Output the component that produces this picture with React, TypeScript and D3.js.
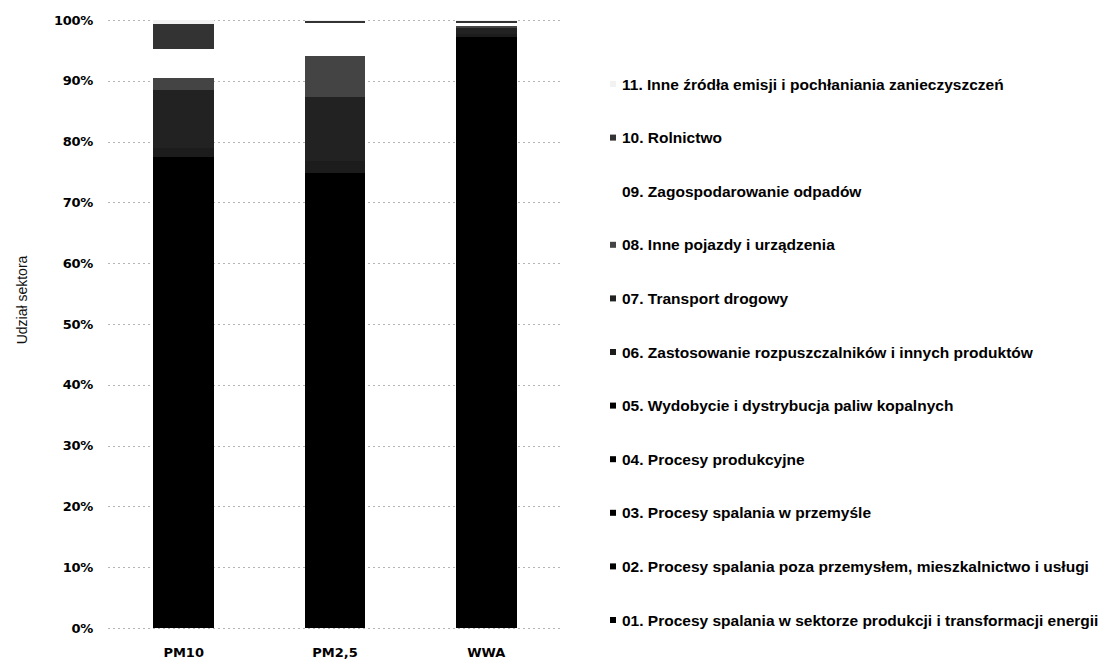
import { useEffect, useRef } from 'react';
import * as d3 from 'd3';

// kategorie na osi X
const CATEGORIES = ['PM10', 'PM2,5', 'WWA'];

// sektory w kolejności od dołu słupka
const SECTORS = [
  '01. Procesy spalania w sektorze produkcji i transformacji energii',
  '02. Procesy spalania poza przemysłem, mieszkalnictwo i usługi',
  '03. Procesy spalania w przemyśle',
  '04. Procesy produkcyjne',
  '05. Wydobycie i dystrybucja paliw kopalnych',
  '06. Zastosowanie rozpuszczalników i innych produktów',
  '07. Transport drogowy',
  '08. Inne pojazdy i urządzenia',
  '09. Zagospodarowanie odpadów',
  '10. Rolnictwo',
  '11. Inne źródła emisji i pochłaniania zanieczyszczeń',
];

const SECTOR_COLORS = [
  '#000000', '#000000', '#000000', '#000000', '#000000',
  '#1c1c1c', '#222222', '#444444', '#ffffff', '#333333', '#f2f2f2',
];

// udział sektora [%] dla PM10, PM2,5, WWA
const S01 = [4.5, 4.0, 2.0];
const S02 = [56.0, 57.0, 88.0];
const S03 = [8.0, 7.0, 4.0];
const S04 = [7.0, 5.0, 2.5];
const S05 = [2.0, 1.8, 0.7];
const S06 = [1.5, 2.0, 0.5];
const S07 = [9.5, 10.5, 1.0];
const S08 = [2.0, 6.7, 0.3];
const S09 = [4.8, 5.5, 0.5];
const S10 = [4.0, 0.3, 0.3];
const S11 = [0.7, 0.2, 0.2];

const SERIES = [S01, S02, S03, S04, S05, S06, S07, S08, S09, S10, S11];

const Y_TICKS = [0, 10, 20, 30, 40, 50, 60, 70, 80, 90, 100];

const WIDTH = 1115;
const HEIGHT = 662;

export default function App() {
  const svgRef = useRef<SVGSVGElement>(null);

  useEffect(() => {
    if (!svgRef.current) return;
    const svg = d3.select(svgRef.current);
    svg.selectAll('*').remove();

    const plot = { left: 108, right: 562, top: 20, bottom: 628 };

    const rows = CATEGORIES.map((cat, ci) => {
      const row: any = { cat };
      SERIES.forEach((s, si) => (row[`s${si}`] = s[ci]));
      return row;
    });
    const keys = SERIES.map((_, si) => `s${si}`);
    const stacked = d3.stack<any>().keys(keys)(rows);

    const x = d3
      .scaleBand<string>()
      .domain(CATEGORIES)
      .range([plot.left, plot.right])
      .paddingInner(0.6)
      .paddingOuter(0.3);

    const y = d3.scaleLinear().domain([0, 100]).range([plot.bottom, plot.top]);

    // siatka
    svg
      .append('g')
      .selectAll('line')
      .data(Y_TICKS)
      .enter()
      .append('line')
      .attr('x1', plot.left)
      .attr('x2', plot.right)
      .attr('y1', (d) => Math.round(y(d)) + 0.5)
      .attr('y2', (d) => Math.round(y(d)) + 0.5)
      .attr('stroke', '#b4b4b4')
      .attr('stroke-width', 1)
      .attr('stroke-dasharray', '2,3');

    // słupki
    svg
      .append('g')
      .attr('shape-rendering', 'crispEdges')
      .selectAll('g')
      .data(stacked)
      .enter()
      .append('g')
      .attr('fill', (_, i) => SECTOR_COLORS[i])
      .selectAll('rect')
      .data((layer) => layer)
      .enter()
      .append('rect')
      .attr('x', (d: any) => x(d.data.cat) as number)
      .attr('width', x.bandwidth())
      .attr('y', (d) => y(d[1]))
      .attr('height', (d) => Math.max(0, y(d[0]) - y(d[1])));

    // oś Y
    svg
      .append('g')
      .selectAll('text')
      .data(Y_TICKS)
      .enter()
      .append('text')
      .attr('x', 93)
      .attr('y', (d) => y(d))
      .attr('dy', '0.36em')
      .attr('text-anchor', 'end')
      .style('font-family', 'DejaVu Sans')
      .style('font-weight', 'bold')
      .style('font-size', '13px')
      .style('letter-spacing', '-0.3px')
      .text((d) => `${d}%`);

    svg
      .append('text')
      .attr('transform', `translate(27,300) rotate(-90)`)
      .attr('text-anchor', 'middle')
      .style('font-family', 'Liberation Sans')
      .style('font-size', '14px')
      .style('fill', '#111')
      .text('Udział sektora');

    // oś X
    svg
      .append('g')
      .selectAll('text')
      .data(CATEGORIES)
      .enter()
      .append('text')
      .attr('x', (d) => (x(d) as number) + x.bandwidth() / 2)
      .attr('y', 657)
      .attr('text-anchor', 'middle')
      .style('font-family', 'DejaVu Sans')
      .style('font-weight', 'bold')
      .style('font-size', '13px')
      .text((d) => d);

    // legenda (od 11 u góry do 01 na dole)
    const legendOrder = d3.range(SECTORS.length).reverse();
    const ly = d3
      .scalePoint<number>()
      .domain(legendOrder)
      .range([84, 620]);

    const item = svg
      .append('g')
      .selectAll('g')
      .data(legendOrder)
      .enter()
      .append('g')
      .attr('transform', (d) => `translate(610,${ly(d)})`);

    item
      .append('rect')
      .attr('x', 0)
      .attr('y', -3)
      .attr('width', 6)
      .attr('height', 6)
      .attr('fill', (d) => SECTOR_COLORS[d]);

    item
      .append('text')
      .attr('x', 12)
      .attr('dy', '0.36em')
      .style('font-family', 'Liberation Sans')
      .style('font-weight', 'bold')
      .style('font-size', '15.5px')
      .style('letter-spacing', '0px')
      .style('fill', '#000')
      .text((d) => SECTORS[d]);
  }, []);

  return (
    <svg
      ref={svgRef}
      width={WIDTH}
      height={HEIGHT}
      style={{ display: 'block', position: 'absolute', left: 0, top: 0, background: '#fff' }}
    />
  );
}
